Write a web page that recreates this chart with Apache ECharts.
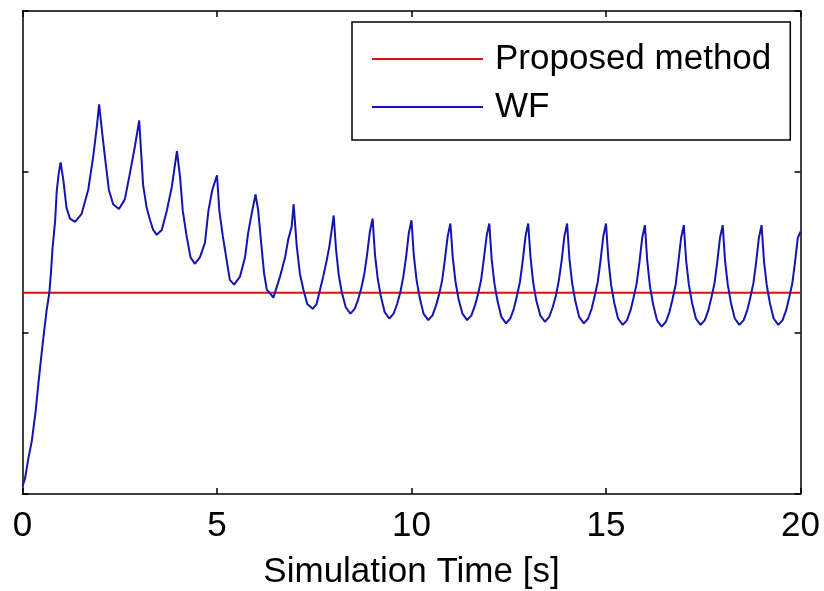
<!DOCTYPE html>
<html>
<head>
<meta charset="utf-8">
<title>Simulation Time</title>
<script src="https://cdn.jsdelivr.net/npm/echarts@6/dist/echarts.min.js"></script>
<style>
  html, body { margin: 0; padding: 0; background: #fff; }
  #chart { width: 824px; height: 591px; }
</style>
</head>
<body>
<div id="chart"></div>
<script>
// Axis ticks (labels only on the time axis)
const timeTicks = [0, 5, 10, 15, 20];
const valueTicks = [0, 1, 2, 3];

// Proposed method: constant level over the whole run
const proposedTime = [0, 20];
const proposedValue = [1.25, 1.25];

// WF response: sampled time [s] and value
const wfTime = [
  0, 0.06, 0.15, 0.24, 0.34, 0.41, 0.49, 0.56, 0.62, 0.69, 0.73, 0.77, 0.84, 0.88, 0.93, 0.98,
  1.05, 1.13, 1.22, 1.35, 1.52, 1.69, 1.82, 1.91, 1.97,
  2.05, 2.14, 2.22, 2.33, 2.48, 2.63, 2.76, 2.89, 3.00,
  3.10, 3.19, 3.28, 3.36, 3.45, 3.58, 3.71, 3.84, 3.97,
  4.05, 4.12, 4.22, 4.32, 4.43, 4.56, 4.69, 4.78, 4.88, 5.00,
  5.06, 5.15, 5.25, 5.33, 5.44, 5.59, 5.72, 5.80, 5.89, 5.99,
  6.06, 6.12, 6.21, 6.28, 6.45, 6.62, 6.75, 6.83, 6.92, 6.97,
  7.05, 7.13, 7.22, 7.32, 7.46, 7.56, 7.65, 7.73, 7.82, 7.89,
  8.00, 8.06, 8.13, 8.21, 8.31, 8.43, 8.54, 8.63, 8.71, 8.79, 8.86, 8.93,
  9.00, 9.06, 9.13, 9.21, 9.31, 9.43, 9.54, 9.63, 9.71, 9.79, 9.86, 9.93,
  10.00, 10.06, 10.13, 10.21, 10.31, 10.43, 10.54, 10.63, 10.71, 10.79, 10.86, 10.93,
  11.00, 11.06, 11.13, 11.21, 11.31, 11.43, 11.54, 11.63, 11.71, 11.79, 11.86, 11.93,
  12.00, 12.06, 12.13, 12.21, 12.31, 12.43, 12.54, 12.63, 12.71, 12.79, 12.86, 12.93,
  13.00, 13.06, 13.13, 13.21, 13.31, 13.43, 13.54, 13.63, 13.71, 13.79, 13.86, 13.93,
  14.00, 14.06, 14.13, 14.21, 14.31, 14.43, 14.54, 14.63, 14.71, 14.79, 14.86, 14.93,
  15.00, 15.06, 15.13, 15.21, 15.31, 15.43, 15.54, 15.63, 15.71, 15.79, 15.86, 15.93,
  16.00, 16.06, 16.13, 16.21, 16.31, 16.43, 16.54, 16.63, 16.71, 16.79, 16.86, 16.93,
  17.00, 17.06, 17.13, 17.21, 17.31, 17.43, 17.54, 17.63, 17.71, 17.79, 17.86, 17.93,
  18.00, 18.06, 18.13, 18.21, 18.31, 18.43, 18.54, 18.63, 18.71, 18.79, 18.86, 18.93,
  19.00, 19.06, 19.13, 19.21, 19.31, 19.43, 19.54, 19.63, 19.71, 19.79, 19.86, 19.93,
  20.00
];
const wfValue = [
  0.05, 0.09, 0.22, 0.33, 0.52, 0.69, 0.87, 1.02, 1.14, 1.25, 1.37, 1.52, 1.70, 1.88, 1.99, 2.06,
  1.95, 1.78, 1.71, 1.69, 1.74, 1.89, 2.10, 2.28, 2.42,
  2.24, 2.05, 1.89, 1.80, 1.77, 1.83, 1.99, 2.16, 2.32,
  1.92, 1.78, 1.70, 1.64, 1.61, 1.64, 1.76, 1.91, 2.13,
  1.97, 1.76, 1.60, 1.47, 1.43, 1.47, 1.56, 1.76, 1.89, 1.98,
  1.76, 1.60, 1.45, 1.33, 1.30, 1.35, 1.47, 1.62, 1.74, 1.86,
  1.76, 1.60, 1.37, 1.27, 1.22, 1.35, 1.47, 1.58, 1.66, 1.80,
  1.54, 1.37, 1.27, 1.18, 1.15, 1.18, 1.27, 1.35, 1.45, 1.54,
  1.73, 1.52, 1.36, 1.25, 1.16, 1.12, 1.15, 1.21, 1.28, 1.37, 1.49, 1.63,
  1.71, 1.49, 1.34, 1.23, 1.13, 1.09, 1.12, 1.18, 1.25, 1.35, 1.47, 1.62,
  1.70, 1.48, 1.33, 1.22, 1.12, 1.08, 1.11, 1.17, 1.24, 1.33, 1.46, 1.60,
  1.68, 1.47, 1.32, 1.21, 1.12, 1.08, 1.11, 1.17, 1.24, 1.33, 1.46, 1.60,
  1.68, 1.46, 1.31, 1.20, 1.10, 1.06, 1.09, 1.15, 1.23, 1.32, 1.45, 1.60,
  1.68, 1.47, 1.31, 1.20, 1.11, 1.07, 1.10, 1.16, 1.23, 1.33, 1.45, 1.60,
  1.68, 1.46, 1.31, 1.20, 1.10, 1.06, 1.09, 1.15, 1.23, 1.32, 1.45, 1.60,
  1.68, 1.46, 1.30, 1.19, 1.09, 1.05, 1.08, 1.14, 1.22, 1.31, 1.44, 1.59,
  1.67, 1.45, 1.29, 1.18, 1.08, 1.04, 1.07, 1.13, 1.21, 1.30, 1.44, 1.59,
  1.67, 1.45, 1.30, 1.19, 1.09, 1.05, 1.08, 1.14, 1.22, 1.31, 1.44, 1.59,
  1.67, 1.45, 1.30, 1.19, 1.09, 1.05, 1.08, 1.14, 1.22, 1.31, 1.44, 1.59,
  1.67, 1.45, 1.30, 1.19, 1.09, 1.05, 1.08, 1.14, 1.22, 1.31, 1.44, 1.59,
  1.63
];

const zip = (xs, ys) => xs.map((x, i) => [x, ys[i]]);

const FONT = '"Liberation Sans", Arial, Helvetica, sans-serif';
const black = '#000';

// Boxed frame: every axis sits on its own edge of the plot, ticks point inward
const frameLine = { show: true, onZero: false, lineStyle: { color: black, width: 1.5 } };
const innerTick = { show: true, inside: true, length: 6, lineStyle: { color: black, width: 1.5 } };

const tMin = timeTicks[0], tMax = timeTicks[timeTicks.length - 1];
const tStep = timeTicks[1] - timeTicks[0];
const vMin = valueTicks[0], vMax = valueTicks[valueTicks.length - 1];
const vStep = valueTicks[1] - valueTicks[0];

const chart = echarts.init(document.getElementById('chart'), null, { renderer: 'canvas' });

chart.setOption({
  animation: false,
  backgroundColor: '#fff',
  textStyle: { fontFamily: FONT },
  grid: {
    left: 22.5, right: 23.5, top: 11, bottom: 97,
    containLabel: false, outerBoundsMode: 'none'
  },
  legend: {
    orient: 'vertical',
    left: 352,
    top: 22,
    icon: 'rect',
    itemWidth: 111,
    itemHeight: 2,
    itemGap: 8,
    padding: [17, 19, 13, 20],
    borderColor: black,
    borderWidth: 1.5,
    backgroundColor: '#fff',
    textStyle: { fontSize: 35, lineHeight: 40, color: black, fontFamily: FONT, padding: [0, 0, 0, 7] },
    data: ['Proposed method', 'WF']
  },
  xAxis: [
    {
      type: 'value', position: 'bottom',
      min: tMin, max: tMax, interval: tStep,
      axisLine: frameLine, axisTick: innerTick, splitLine: { show: false },
      axisLabel: { fontSize: 35, color: black, margin: 15, fontFamily: FONT },
      name: 'Simulation Time [s]', nameLocation: 'middle', nameGap: 61,
      nameTextStyle: { fontSize: 35, color: black, fontFamily: FONT }
    },
    {
      type: 'value', position: 'top',
      min: tMin, max: tMax, interval: tStep,
      axisLine: frameLine, axisTick: innerTick, splitLine: { show: false },
      axisLabel: { show: false }
    }
  ],
  yAxis: [
    {
      type: 'value', position: 'left',
      min: vMin, max: vMax, interval: vStep,
      axisLine: frameLine, axisTick: innerTick, splitLine: { show: false },
      axisLabel: { show: false }
    },
    {
      type: 'value', position: 'right',
      min: vMin, max: vMax, interval: vStep,
      axisLine: frameLine, axisTick: innerTick, splitLine: { show: false },
      axisLabel: { show: false }
    }
  ],
  series: [
    {
      name: 'Proposed method', type: 'line',
      xAxisIndex: 0, yAxisIndex: 0,
      data: zip(proposedTime, proposedValue),
      symbol: 'none', color: '#dd1111',
      lineStyle: { width: 2, color: '#dd1111' },
      z: 2
    },
    {
      name: 'WF', type: 'line',
      xAxisIndex: 0, yAxisIndex: 0,
      data: zip(wfTime, wfValue),
      symbol: 'none', color: '#1414b0',
      lineStyle: { width: 2, color: '#1414b0' },
      z: 3
    }
  ]
});
</script>
</body>
</html>
